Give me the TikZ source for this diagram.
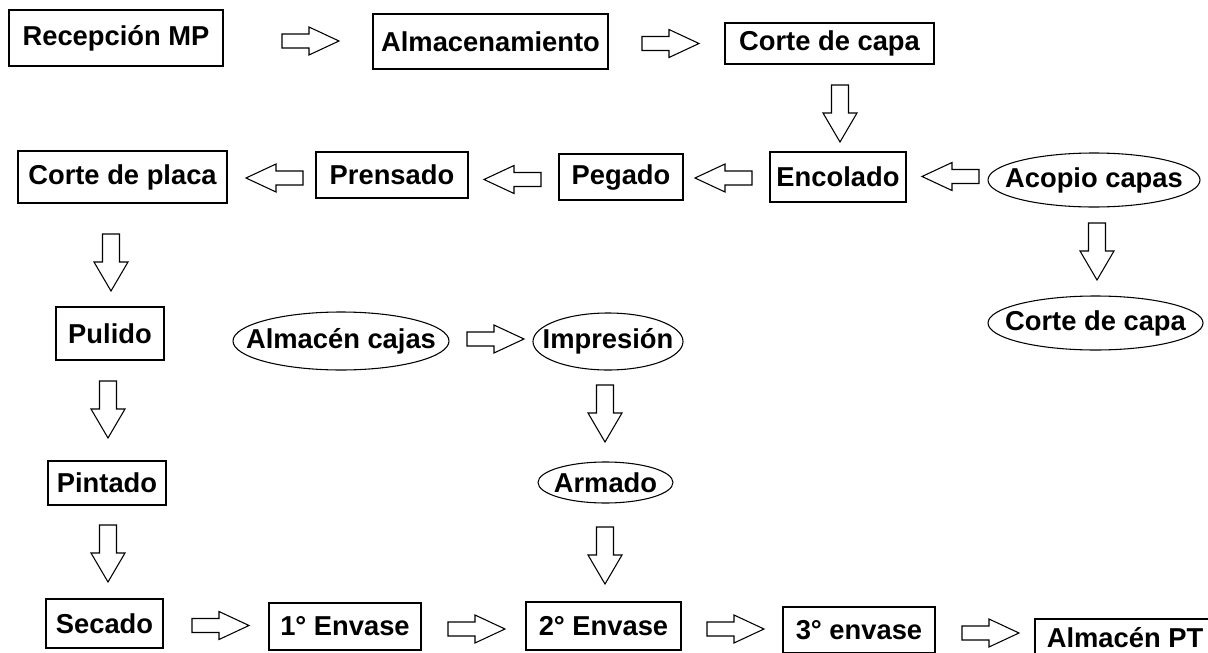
\documentclass[tikz,border=0pt]{standalone}
\usepackage{fontspec}
\setmainfont{Liberation Sans}
\usetikzlibrary{shapes.geometric}
\newcommand\lbl{\fontsize{20.5pt}{24pt}\selectfont\bfseries}
\newcommand\bx[6]{\node[box, minimum width={(#4-#2)*0.75pt}, minimum height={(#5-#3)*0.75pt}] (#1) at ({(#2+#4)/2},{(#3+#5)/2}) {#6};}
\newcommand\ov[6]{\node[ovaltext, minimum width={(#4-#2)*0.75pt}, minimum height={(#5-#3)*0.75pt}] (#1) at ({(#2+#4)/2},{(#3+#5)/2}) {#6};
  \draw[ovalline] (#1.center) ellipse [x radius={(#4-#2)*0.375pt}, y radius={(#5-#3)*0.375pt}];}
\tikzset{
  box/.style={draw, line width=1.3pt, inner sep=0pt, font=\lbl},
  ovaltext/.style={inner sep=0pt, font=\lbl},
  ovalline/.style={line width=0.8pt},
  arr/.style={draw, line width=0.8pt, fill=white, line join=miter},
  rarr/.pic={\draw[arr] (0,-7) -- (27,-7) -- (27,-14) -- (57,0) -- (27,14) -- (27,7) -- (0,7) -- cycle;},
  larr/.pic={\draw[arr] (0,-7) -- (-27,-7) -- (-27,-14) -- (-57,0) -- (-27,14) -- (-27,7) -- (0,7) -- cycle;},
  darr/.pic={\draw[arr] (-8.5,0) -- (-8.5,28) -- (-17,28) -- (0,57) -- (17,28) -- (8.5,28) -- (8.5,0) -- cycle;},
}
\begin{document}
\begin{tikzpicture}[x=0.75pt,y=-0.75pt]
\useasboundingbox (0,0) rectangle (1208,653);
\clip (0,0) rectangle (1208,653);
% boxes
\bx{rec}{9}{10}{223}{66}{Recepción MP}
\bx{alm}{373}{14}{608}{69}{Almacenamiento}
\bx{cc}{725}{23}{934}{64}{Corte de capa}
\bx{cp}{18}{151}{227}{203}{Corte de placa}
\bx{pre}{316}{152}{468}{198}{Prensado}
\bx{peg}{559}{154}{683}{200}{Pegado}
\bx{enc}{770}{152}{906}{202}{Encolado}
\bx{pul}{56}{307}{164}{360}{Pulido}
\bx{pin}{48}{461}{166}{505}{Pintado}
\bx{sec}{46}{599}{163}{648}{Secado}
\bx{e1}{269}{603}{421}{650}{1° Envase}
\bx{e2}{526}{602}{681}{650}{2° Envase}
\bx{e3}{783}{607}{935}{653}{3° envase}
\bx{apt}{1035}{619}{1215}{657}{Almacén PT}
% ellipses
\ov{aco}{988}{153}{1200}{207}{Acopio capas}
\ov{cc2}{988}{296}{1203}{350}{Corte de capa}
\ov{ac}{233}{312}{449}{370}{Almacén cajas}
\ov{imp}{533}{313}{683}{370}{Impresión}
\ov{arm}{538}{462}{673}{503}{Armado}
% right arrows
\pic at (282,41) {rarr};
\pic at (642,43.5) {rarr};
\pic at (467,339) {rarr};
\pic at (192,625.5) {rarr};
\pic at (448,629) {rarr};
\pic at (707,629) {rarr};
\pic at (962,633) {rarr};
% left arrows
\pic at (303,178) {larr};
\pic at (541,179.5) {larr};
\pic at (752,178) {larr};
\pic at (979,176.5) {larr};
% down arrows
\pic at (840,85) {darr};
\pic at (1097,223) {darr};
\pic at (111,234) {darr};
\pic at (108,381) {darr};
\pic at (108,525) {darr};
\pic at (605,385) {darr};
\pic at (605,527) {darr};
\end{tikzpicture}
\end{document}
